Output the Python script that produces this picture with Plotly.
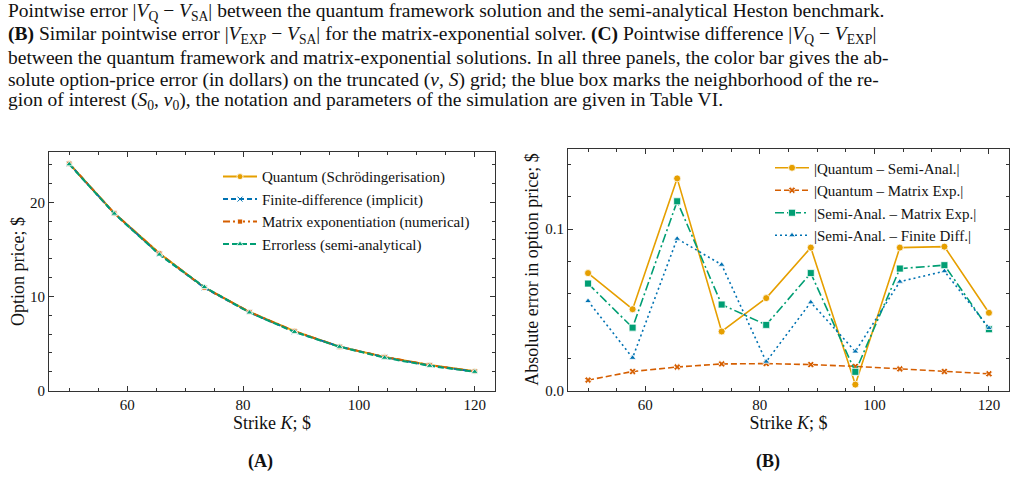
import plotly.graph_objects as go

W, H = 1016, 493

strikes = [50.0, 57.78, 65.56, 73.33, 81.11, 88.89, 96.67, 104.44, 112.22, 120.0]

# Panel A: option prices
price_quantum = [24.12, 18.85, 14.58, 10.96, 8.36, 6.32, 4.66, 3.58, 2.72, 2.04]
price_fd = [24.10, 18.82, 14.49, 10.92, 8.31, 6.25, 4.67, 3.55, 2.67, 2.02]
price_mexp = [24.11, 18.84, 14.57, 10.94, 8.35, 6.30, 4.66, 3.57, 2.71, 2.03]
price_sa = [24.05, 18.80, 14.45, 11.00, 8.30, 6.23, 4.65, 3.49, 2.63, 1.99]

# Panel B: absolute errors
err_q_sa = [0.0728, 0.0504, 0.1315, 0.0366, 0.0573, 0.0886, 0.0037, 0.0886, 0.0892, 0.0482]
err_q_me = [0.0065, 0.0118, 0.0146, 0.0165, 0.0167, 0.0161, 0.0150, 0.0134, 0.0118, 0.0104]
err_sa_me = [0.0663, 0.0390, 0.1173, 0.0533, 0.0407, 0.0728, 0.0116, 0.0756, 0.0777, 0.0380]
err_sa_fd = [0.0555, 0.0203, 0.0941, 0.0780, 0.0179, 0.0547, 0.0242, 0.0675, 0.0740, 0.0388]

C_ORANGE = "#E69F00"
C_VERM = "#D55E00"
C_GREEN = "#009E73"
C_BLUE = "#0072B2"

FONT = "Liberation Serif"

fig = go.Figure()

def mk(symbol, color, size=6):
    return dict(symbol=symbol, color=color, size=size, line=dict(color="rgba(255,255,255,0.8)", width=1))

# Panel A
fig.add_trace(go.Scatter(x=strikes, y=price_quantum, mode="lines+markers", name="Quantum (Schrödingerisation)",
                         line=dict(color=C_ORANGE, width=2), marker=mk("circle", C_ORANGE),
                         xaxis="x", yaxis="y", legend="legend"))
fig.add_trace(go.Scatter(x=strikes, y=price_fd, mode="lines+markers", name="Finite-difference (implicit)",
                         line=dict(color=C_BLUE, width=2, dash="5px,3px"), marker=mk("x-thin-open", C_BLUE, 5),
                         xaxis="x", yaxis="y", legend="legend"))
fig.add_trace(go.Scatter(x=strikes, y=price_mexp, mode="lines+markers", name="Matrix exponentiation (numerical)",
                         line=dict(color=C_VERM, width=2, dash="7px,3px,2px,3px"), marker=mk("square", C_VERM, 5),
                         xaxis="x", yaxis="y", legend="legend"))
fig.add_trace(go.Scatter(x=strikes, y=price_sa, mode="lines+markers", name="Errorless (semi-analytical)",
                         line=dict(color=C_GREEN, width=2, dash="6px,3px"), marker=mk("triangle-up", C_GREEN, 6),
                         xaxis="x", yaxis="y", legend="legend"))

# Panel B
fig.add_trace(go.Scatter(x=strikes, y=err_q_sa, mode="lines+markers", name="|Quantum – Semi-Anal.|",
                         line=dict(color=C_ORANGE, width=1.6), marker=mk("circle", C_ORANGE, 7),
                         xaxis="x2", yaxis="y2", legend="legend2"))
fig.add_trace(go.Scatter(x=strikes, y=err_q_me, mode="lines+markers", name="|Quantum – Matrix Exp.|",
                         line=dict(color=C_VERM, width=1.6, dash="6px,3px"), marker=mk("x", C_VERM, 6),
                         xaxis="x2", yaxis="y2", legend="legend2"))
fig.add_trace(go.Scatter(x=strikes, y=err_sa_me, mode="lines+markers", name="|Semi-Anal. – Matrix Exp.|",
                         line=dict(color=C_GREEN, width=1.6, dash="9px,3px,2px,3px"), marker=mk("square", C_GREEN, 7),
                         xaxis="x2", yaxis="y2", legend="legend2"))
fig.add_trace(go.Scatter(x=strikes, y=err_sa_fd, mode="lines+markers", name="|Semi-Anal. – Finite Diff.|",
                         line=dict(color=C_BLUE, width=1.6, dash="2px,3px"), marker=mk("triangle-up", C_BLUE, 6),
                         xaxis="x2", yaxis="y2", legend="legend2"))

def px_x(a, b):
    return [a / W, b / W]

def px_y(top, bottom):
    return [1 - bottom / H, 1 - top / H]

axis_common = dict(
    showline=True, linecolor="#333", linewidth=1, mirror="allticks",
    ticks="inside", ticklen=5, tickwidth=1, tickcolor="#333",
    showgrid=False, zeroline=False,
    tickfont=dict(family=FONT, size=15, color="#111"),
)
title_font = dict(family=FONT, size=18, color="#111")

fig.update_layout(
    width=W, height=H, margin=dict(l=0, r=0, t=0, b=0),
    paper_bgcolor="white", plot_bgcolor="white",
    font=dict(family=FONT, color="#111"),
    xaxis=dict(domain=px_x(49, 495), range=[46.5, 123.5], tickvals=[60, 80, 100, 120],
               minor=dict(dtick=5, tick0=0, ticks="inside", ticklen=3, tickcolor="#333"),
               title=dict(text="Strike <i>K</i>; $", font=title_font, standoff=3),
               anchor="y", **axis_common),
    yaxis=dict(domain=px_y(155, 397), range=[0, 25.3], tickvals=[0, 10, 20],
               minor=dict(dtick=2, tick0=0, ticks="inside", ticklen=3, tickcolor="#333"),
               title=dict(text="Option price; $", font=title_font, standoff=0),
               anchor="x", **axis_common),
    xaxis2=dict(domain=px_x(568, 1009), range=[46.5, 123.5], tickvals=[60, 80, 100, 120],
                minor=dict(dtick=5, tick0=0, ticks="inside", ticklen=3, tickcolor="#333"),
                title=dict(text="Strike <i>K</i>; $", font=title_font, standoff=3),
                anchor="y2", **axis_common),
    yaxis2=dict(domain=px_y(151, 397), range=[0, 0.15], tickvals=[0, 0.1], tickformat=".1f",
                minor=dict(dtick=0.02, tick0=0, ticks="inside", ticklen=3, tickcolor="#333"),
                title=dict(text="Absolute error in option price; $", font=title_font, standoff=1),
                anchor="x2", **axis_common),
    legend=dict(x=218 / W, y=1 - 163 / H, xanchor="left", yanchor="top",
                bgcolor="rgba(255,255,255,0)", font=dict(family=FONT, size=15),
                itemwidth=34, tracegroupgap=0),
    legend2=dict(x=770 / W, y=1 - 154 / H, xanchor="left", yanchor="top",
                 bgcolor="rgba(255,255,255,0)", font=dict(family=FONT, size=15),
                 itemwidth=34, tracegroupgap=0),
)

caption = [
    "Pointwise error |<i>V</i><sub>Q</sub> − <i>V</i><sub>SA</sub>| between the quantum framework solution and the semi-analytical Heston benchmark.",
    "<b>(B)</b> Similar pointwise error |<i>V</i><sub>EXP</sub> − <i>V</i><sub>SA</sub>| for the matrix-exponential solver. <b>(C)</b> Pointwise difference |<i>V</i><sub>Q</sub> − <i>V</i><sub>EXP</sub>|",
    "between the quantum framework and matrix-exponential solutions. In all three panels, the color bar gives the ab-",
    "solute option-price error (in dollars) on the truncated (<i>v</i>, <i>S</i>) grid; the blue box marks the neighborhood of the re-",
    "gion of interest (<i>S</i><sub>0</sub>, <i>v</i><sub>0</sub>), the notation and parameters of the simulation are given in Table VI.",
]
cap_y = [12, 36, 58, 81, 103]
for txt, yy in zip(caption, cap_y):
    fig.add_annotation(text=txt, x=6 / W, y=1 - yy / H, xref="paper", yref="paper",
                       xanchor="left", yanchor="middle", showarrow=False,
                       font=dict(family=FONT, size=19.5, color="#111"))

fig.add_annotation(text="<b>(A)</b>", x=260 / W, y=1 - 469 / H, xref="paper", yref="paper",
                   xanchor="center", yanchor="middle",
                   showarrow=False, font=dict(family=FONT, size=18, color="#111"))
fig.add_annotation(text="<b>(B)</b>", x=768 / W, y=1 - 469 / H, xref="paper", yref="paper",
                   xanchor="center", yanchor="middle",
                   showarrow=False, font=dict(family=FONT, size=18, color="#111"))

fig.write_html("out.html")
